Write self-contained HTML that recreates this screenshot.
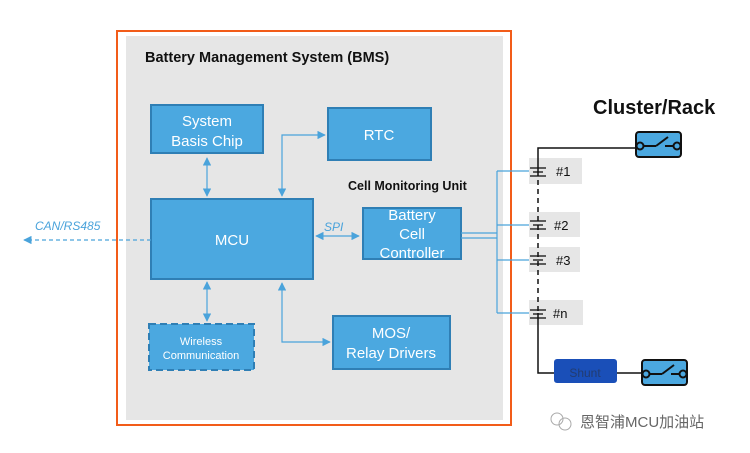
<!DOCTYPE html>
<html><head><meta charset="utf-8"><style>
body{margin:0;background:#fff;}
svg{display:block;font-family:"Liberation Sans",Arial,sans-serif;}
</style></head><body>
<svg width="750" height="453" viewBox="0 0 750 453" xmlns="http://www.w3.org/2000/svg">
<defs>
<marker id="a" viewBox="0 0 10 10" refX="9" refY="5" markerWidth="7" markerHeight="7" orient="auto-start-reverse"><path d="M0,0L10,5L0,10z" fill="#4aa3db"/></marker>
</defs>
<rect x="117" y="31" width="394" height="394" fill="#fff" stroke="#f25c19" stroke-width="2"/>
<rect x="126" y="36" width="377" height="384" fill="#e6e6e6"/>
<text x="145" y="62" font-size="14.5" font-weight="bold" fill="#111">Battery Management System (BMS)</text>
<g fill="#4ba8e0" stroke="#2f7fb5" stroke-width="2">
<rect x="151" y="105" width="112" height="48"/>
<rect x="328" y="108" width="103" height="52"/>
<rect x="151" y="199" width="162" height="80"/>
<rect x="363" y="208" width="98" height="51"/>
<rect x="333" y="316" width="117" height="53"/>
<rect x="149" y="324" width="105" height="46" stroke-dasharray="7,4"/>
</g>
<g fill="#fff" text-anchor="middle" font-size="15">
<text x="207" y="126">System</text><text x="207" y="146">Basis Chip</text>
<text x="379" y="140">RTC</text>
<text x="232" y="245">MCU</text>
<text x="412" y="220">Battery</text><text x="412" y="239">Cell</text><text x="412" y="258">Controller</text>
<text x="391" y="338">MOS/</text><text x="391" y="358">Relay Drivers</text>
<text x="201" y="345" font-size="11">Wireless</text><text x="201" y="359" font-size="11">Communication</text>
</g>
<text x="348" y="190" font-size="12.5" font-weight="bold" fill="#111">Cell Monitoring Unit</text>
<g stroke="#4aa3db" stroke-width="1.2" fill="none">
<line x1="207" y1="158" x2="207" y2="196" marker-start="url(#a)" marker-end="url(#a)"/>
<polyline points="282,196 282,135 325,135" marker-start="url(#a)" marker-end="url(#a)"/>
<line x1="207" y1="282" x2="207" y2="321" marker-start="url(#a)" marker-end="url(#a)"/>
<polyline points="282,283 282,342 330,342" marker-start="url(#a)"  marker-end="url(#a)"/>
<line x1="316" y1="236" x2="359" y2="236" marker-start="url(#a)" marker-end="url(#a)"/>
<line x1="151" y1="240" x2="24" y2="240" stroke-dasharray="4,3" marker-end="url(#a)"/>
<line x1="461" y1="233" x2="497" y2="233"/>
<line x1="461" y1="238" x2="497" y2="238"/>
<line x1="497" y1="171" x2="497" y2="313"/>
<line x1="497" y1="171" x2="532" y2="171"/>
<line x1="497" y1="225" x2="532" y2="225"/>
<line x1="497" y1="260" x2="532" y2="260"/>
<line x1="497" y1="313" x2="532" y2="313"/>
</g>
<text x="35" y="230" font-size="12" font-style="italic" fill="#4aa3db">CAN/RS485</text>
<text x="324" y="231" font-size="12" font-style="italic" fill="#4aa3db">SPI</text>
<g fill="#e6e6e6">
<rect x="529" y="158" width="53" height="26"/>
<rect x="529" y="212" width="51" height="25"/>
<rect x="529" y="247" width="51" height="25"/>
<rect x="529" y="300" width="54" height="25"/>
</g>
<g stroke="#111" stroke-width="1.5" fill="none">
<polyline points="635,148 538,148 538,171"/>
<line x1="538" y1="171" x2="538" y2="313" stroke-dasharray="5,4"/>
<polyline points="538,313 538,373 555,373"/>
<line x1="617" y1="373" x2="642" y2="373"/>
</g>
<g stroke="#111" stroke-width="1.3">
<line x1="530" y1="168" x2="546" y2="168"/><line x1="533" y1="172" x2="543" y2="172"/><line x1="530" y1="176" x2="546" y2="176"/>
<line x1="530" y1="221" x2="546" y2="221"/><line x1="533" y1="225" x2="543" y2="225"/><line x1="530" y1="229" x2="546" y2="229"/>
<line x1="530" y1="256" x2="546" y2="256"/><line x1="533" y1="260" x2="543" y2="260"/><line x1="530" y1="264" x2="546" y2="264"/>
<line x1="530" y1="310" x2="546" y2="310"/><line x1="533" y1="314" x2="543" y2="314"/><line x1="530" y1="318" x2="546" y2="318"/>
</g>
<g font-size="13" fill="#111">
<text x="556" y="176">#1</text><text x="554" y="230">#2</text><text x="556" y="265">#3</text><text x="553" y="318">#n</text>
</g>
<g stroke="#111" stroke-width="2">
<rect x="636" y="132" width="45" height="25" rx="3" fill="#4ba8e0"/>
<line x1="644" y1="146" x2="656" y2="146"/><line x1="656" y1="146" x2="668" y2="137"/><line x1="665" y1="146" x2="673" y2="146"/>
<circle cx="640" cy="146" r="3.5" fill="#4ba8e0"/><circle cx="677" cy="146" r="3.5" fill="#4ba8e0"/>
<rect x="642" y="360" width="45" height="25" rx="3" fill="#4ba8e0"/>
<line x1="650" y1="374" x2="662" y2="374"/><line x1="662" y1="374" x2="674" y2="365"/><line x1="671" y1="374" x2="679" y2="374"/>
<circle cx="646" cy="374" r="3.5" fill="#4ba8e0"/><circle cx="683" cy="374" r="3.5" fill="#4ba8e0"/>
</g>
<rect x="554" y="359" width="63" height="24" rx="3" fill="#1a4fb8"/>
<text x="585" y="377" font-size="12" fill="#233c70" text-anchor="middle">Shunt</text>
<text x="593" y="114" font-size="20" font-weight="bold" fill="#111">Cluster/Rack</text>
<g stroke="#aaa" fill="none" stroke-width="1"><circle cx="557" cy="419" r="6"/><circle cx="565" cy="424" r="6"/></g>
<text x="580" y="427" font-size="15" fill="#666" font-family="'Liberation Sans','Noto Sans CJK SC',sans-serif">恩智浦MCU加油站</text>
</svg>
</body></html>
